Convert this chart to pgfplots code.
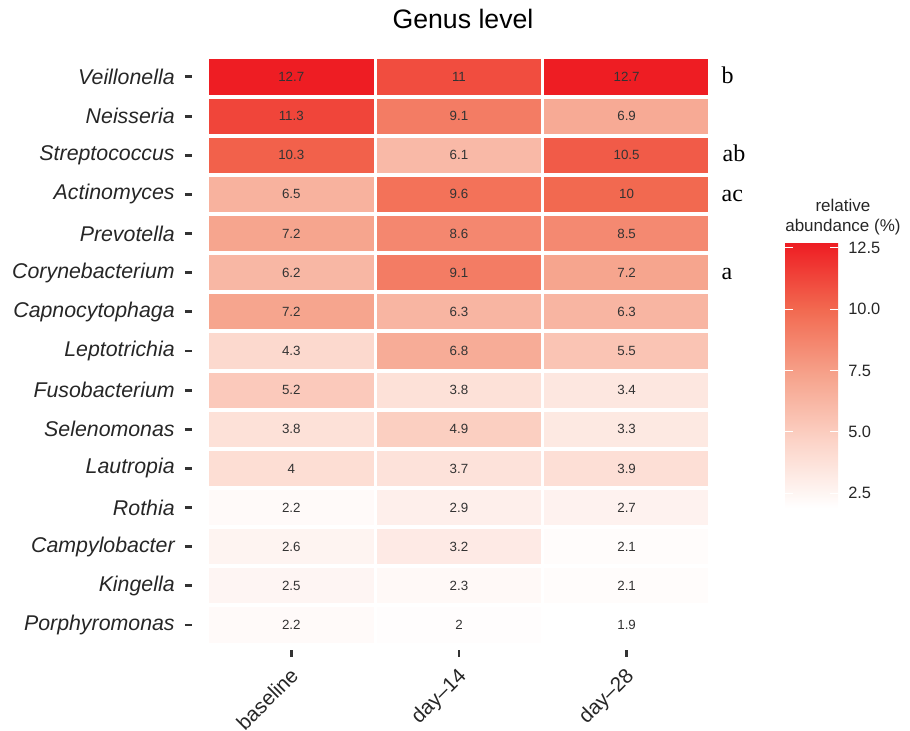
\documentclass[border=0pt]{standalone}
\usepackage{pgfplots}
\pgfplotsset{compat=1.18}
\usepackage{pgfplotstable}
\usepackage{fontspec}
\setmainfont{Liberation Sans}
\newfontfamily\lserif{Liberation Serif}
\definecolor{tickgray}{HTML}{333333}

\pgfplotstableread{
x y c
0 0 2.2
1 0 2
2 0 1.9
0 1 2.5
1 1 2.3
2 1 2.1
0 2 2.6
1 2 3.2
2 2 2.1
0 3 2.2
1 3 2.9
2 3 2.7
0 4 4
1 4 3.7
2 4 3.9
0 5 3.8
1 5 4.9
2 5 3.3
0 6 5.2
1 6 3.8
2 6 3.4
0 7 4.3
1 7 6.8
2 7 5.5
0 8 7.2
1 8 6.3
2 8 6.3
0 9 6.2
1 9 9.1
2 9 7.2
0 10 7.2
1 10 8.6
2 10 8.5
0 11 6.5
1 11 9.6
2 11 10
0 12 10.3
1 12 6.1
2 12 10.5
0 13 11.3
1 13 9.1
2 13 6.9
0 14 12.7
1 14 11
2 14 12.7
}\heat

\begin{document}
\begin{tikzpicture}
\useasboundingbox (0,0) rectangle (682.5pt,548.25pt);
\begin{axis}[
  at={(155.6pt,64.8pt)}, anchor=south west,
  scale only axis, width=377.25pt, height=440.4pt,
  xmin=-0.5, xmax=2.5, ymin=-0.5, ymax=14.5,
  clip=false,
  axis x line*=bottom, axis y line*=left,
  axis x line shift=4pt, axis y line shift=11.6pt,
  axis line style={draw=none},
  tick align=outside, major tick length=5.3pt,
  tick style={tickgray, line width=2.2pt},
  xtick={0,1,2}, xticklabels={baseline,day--14,day--28},
  xticklabel style={font=\fontsize{15.5pt}{18pt}\selectfont, rotate=45, anchor=north east, inner sep=0pt, yshift=-3.5pt, xshift=-6pt, text=black!85},
  ytick={0,...,14},
  yticklabels={Porphyromonas,Kingella,Campylobacter,Rothia,Lautropia,Selenomonas,Fusobacterium,Leptotrichia,Capnocytophaga,Corynebacterium,Prevotella,Actinomyces,Streptococcus,Neisseria,Veillonella},
  yticklabel style={font=\fontsize{16pt}{19pt}\selectfont\itshape, inner sep=0pt, xshift=-7.5pt, text=black!85},
  colormap={heat}{rgb255=(255,255,255) rgb255=(252,212,200) rgb255=(246,163,140) rgb255=(242,105,80) rgb255=(238,29,35)},
  point meta min=1.9, point meta max=12.7,
  title={Genus level},
  title style={font=\fontsize{20pt}{24pt}\selectfont, at={(0.5,1)}, anchor=base, yshift=15.5pt, xshift=3pt},
  colorbar,
  colorbar/width=39.75pt,
  colorbar style={
    at={(parent axis.north east)}, anchor=north west, xshift=47.4pt, yshift=-139.2pt,
    scale only axis, width=39.75pt, height=198.75pt,
    axis line style={draw=none},
    ytick={2.5,5,7.5,10,12.5},
    major tick length=6pt, tick align=inside,
    ytick style={white, line width=0.8pt},
    ytick pos=both, yticklabel pos=right,
    yticklabel style={font=\fontsize{12.3pt}{14pt}\selectfont, text=black!85, inner sep=0pt, xshift=7.5pt,
      /pgf/number format/fixed, /pgf/number format/fixed zerofill, /pgf/number format/precision=1,
      /pgf/number format/assume math mode=true},
    title={relative\\abundance (\%)},
    title style={at={(0,1)}, anchor=south west, align=center, inner sep=0pt, yshift=0pt,
      font=\fontsize{12.75pt}{15pt}\selectfont, text=black!85},
  },
]
\addplot[matrix plot*, mesh/cols=3, point meta=explicit] table[meta=c] {\heat};
\pgfplotsinvokeforeach{0.5,1.5,2.5,3.5,4.5,5.5,6.5,7.5,8.5,9.5,10.5,11.5,12.5,13.5}{
  \draw[white, line width=3pt] (axis cs:-0.5,#1) -- (axis cs:2.5,#1);
}
\pgfplotsinvokeforeach{0.5,1.5}{
  \draw[white, line width=2.25pt] (axis cs:#1,-0.5) -- (axis cs:#1,14.5);
}
\draw[white, line width=3pt] (axis cs:-0.5,-0.5) rectangle (axis cs:2.5,14.5);
\addplot[only marks, mark=none, nodes near coords, point meta=explicit symbolic,
  nodes near coords align={center},
  every node near coord/.append style={font=\fontsize{10pt}{11pt}\selectfont, text=tickgray, anchor=center}]
  table[meta=c] {\heat};
\node[anchor=base west, inner sep=0pt, font=\lserif\fontsize{18pt}{20pt}\selectfont, xshift=8.25pt, yshift=-5pt] at (axis cs:2.5,14) {b};
\node[anchor=base west, inner sep=0pt, font=\lserif\fontsize{18pt}{20pt}\selectfont, xshift=9pt, yshift=-5pt] at (axis cs:2.5,12) {ab};
\node[anchor=base west, inner sep=0pt, font=\lserif\fontsize{18pt}{20pt}\selectfont, xshift=8.25pt, yshift=-5pt] at (axis cs:2.5,11) {ac};
\node[anchor=base west, inner sep=0pt, font=\lserif\fontsize{18pt}{20pt}\selectfont, xshift=8.25pt, yshift=-5pt] at (axis cs:2.5,9) {a};
\end{axis}
\end{tikzpicture}
\end{document}
